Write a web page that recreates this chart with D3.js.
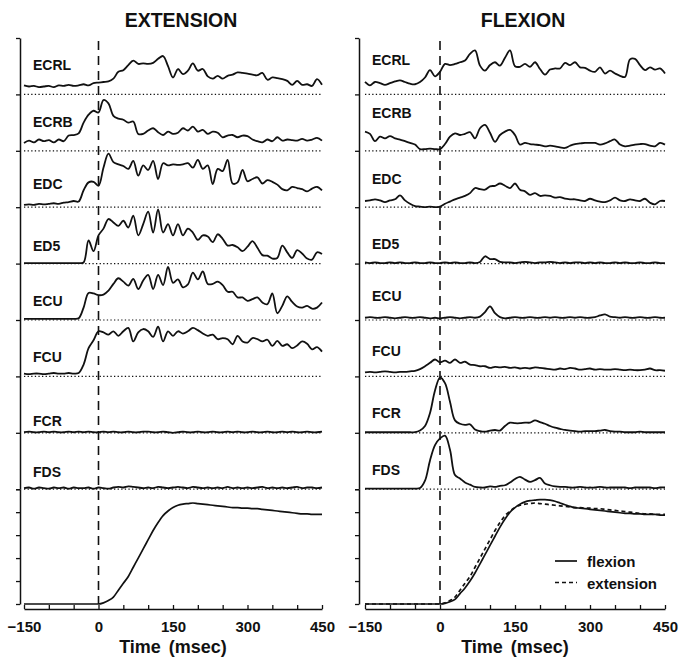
<!DOCTYPE html>
<html>
<head>
<meta charset="utf-8">
<script src="https://cdn.jsdelivr.net/npm/d3@7"></script>
<style>
  body { margin: 0; background: #fff; }
  text { font-family: "Liberation Sans", Arial, Helvetica, sans-serif; font-weight: bold; fill: #111; }
</style>
</head>
<body>
<svg id="chart" width="680" height="666"></svg>
<script>
// sample times (msec), one value every 10 ms
const times = d3.range(-150, 451, 10)
const timeTicks = d3.range(-150, 451, 50)
const timeLabels = [-150, 0, 150, 300, 450]
const positionTicks = [0, 20, 40, 60, 80, 100]
const muscles = ["ECRL", "ECRB", "EDC", "ED5", "ECU", "FCU", "FCR", "FDS"]

// EMG, % of strip height -- extension movements
const extECRL = [16,14,15,13,14,15,13,16,15,17, 15,16,18,16,20,21,22,23,28,40, 43,52,60,54,55,54,56,63,68,50, 30,45,36,42,55,42,45,32,28,33, 28,33,35,39,38,37,35,34,38,26, 30,29,27,24,17,24,17,18,15,27, 17]
const extECRB = [14,18,15,20,17,19,15,20,17,27, 28,31,50,64,71,68,90,84,62,57, 55,50,52,30,30,36,40,33,28,34, 30,32,40,36,43,34,37,30,34,32, 24,27,28,24,27,26,20,17,15,20, 17,24,18,20,19,18,21,18,20,23, 18]
const extEDC = [4,5,4,6,5,6,7,6,8,9, 11,10,30,44,45,38,70,95,80,76, 73,68,82,56,74,66,82,50,78,74, 76,75,76,78,70,84,68,74,41,68, 64,84,42,44,66,46,50,53,42,48, 45,40,32,30,36,34,32,28,33,36, 30]
const extED5 = [1,1,1,1,1,1,1,1,1,1, 1,1,2,41,22,50,62,79,73,67, 76,64,85,50,70,92,55,96,55,70, 50,70,50,62,55,42,50,48,38,52, 44,32,33,29,22,30,40,28,15,14, 9,10,32,20,10,24,18,9,7,20, 17]
const extECU = [2,2,2,2,2,2,2,2,2,2, 2,3,22,48,47,44,45,52,64,74, 68,61,73,55,70,80,55,80,62,94, 66,72,58,63,84,72,86,64,64,68, 62,50,50,40,40,34,37,40,31,28, 47,12,25,42,32,24,22,25,20,22, 31]
const extFCU = [5,4,5,5,4,5,6,5,5,6, 5,6,21,50,64,80,78,74,80,72, 80,86,62,78,84,80,70,88,62,80, 72,80,76,80,86,82,76,72,74,66, 68,66,57,72,62,60,68,66,62,65, 54,63,54,57,50,55,62,58,48,52, 44]
const extFCR = [1,2,1,1,2,1,2,1,1,2, 1,2,1,2,1,1,2,1,2,1, 1,2,1,1,2,2,1,1,2,1, 0,1,2,1,1,2,1,1,2,1, 1,2,1,2,1,1,2,1,1,2, 1,1,2,1,2,1,1,2,1,1, 2]
const extFDS = [2,3,1,3,2,1,3,2,3,1, 3,2,2,3,1,3,2,1,3,4, 3,5,4,3,2,3,2,4,3,2, 3,4,3,2,4,3,2,3,2,3, 2,4,2,3,2,3,2,3,4,2, 3,2,3,2,3,4,2,3,3,2, 3]

// EMG, % of strip height -- flexion movements
const flexECRL = [22,16,22,20,17,20,23,25,22,19, 18,22,30,43,32,40,54,52,54,57, 60,72,78,51,42,52,57,51,65,78, 50,49,54,49,57,45,35,44,46,46, 56,52,57,48,47,42,40,48,37,42, 37,33,31,62,63,52,43,48,44,46, 37]
const flexECRB = [34,30,17,25,22,26,22,20,17,14, 11,3,3,4,3,3,12,25,31,28, 30,33,22,40,46,32,16,28,34,37, 28,11,14,12,11,10,8,9,8,6, 5,9,12,13,14,14,14,11,13,17, 20,11,8,9,11,12,12,9,8,14, 11]
const flexEDC = [11,12,14,12,9,12,14,21,12,6, 2,1,0,1,0,1,6,10,14,17, 20,25,34,32,31,37,38,42,38,34, 42,31,28,22,25,20,21,20,17,18, 15,14,14,12,11,15,12,10,9,12, 17,12,11,14,12,11,15,8,5,11, 11]
const flexED5 = [2,1,2,1,1,2,1,2,1,1, 2,1,1,2,1,1,2,1,2,1, 1,2,1,3,13,8,8,3,2,2, 1,2,3,2,1,2,2,3,2,1, 2,1,2,2,1,2,1,2,1,1, 2,1,2,1,1,2,1,1,2,1, 1]
const flexECU = [4,5,4,4,5,4,3,4,5,4, 4,5,4,3,4,3,4,5,4,3, 4,5,4,6,14,24,12,5,3,4, 5,4,4,5,4,4,5,4,5,4, 4,5,4,5,4,4,5,8,10,6, 5,4,5,4,4,5,4,4,5,4, 4]
const flexFCU = [7,8,7,8,9,8,7,8,8,9, 10,13,18,24,30,25,28,24,30,24, 26,21,20,18,18,15,17,16,17,15, 16,14,15,14,16,15,14,13,12,14, 13,15,14,12,13,14,12,13,12,12, 13,12,11,12,11,11,12,14,11,11, 10]
const flexFCR = [1,1,1,1,1,1,1,1,1,1, 1,4,12,35,75,98,88,55,22,16, 14,15,6,3,2,4,5,4,12,18, 17,17,18,18,22,19,16,12,9,7, 5,4,3,2,3,3,3,4,5,3, 2,2,1,1,1,2,1,1,1,1, 1]
const flexFDS = [1,1,1,1,1,1,1,1,1,1, 1,2,15,51,78,90,95,70,25,19, 12,8,4,3,3,5,4,6,7,12, 18,22,17,13,16,20,10,7,5,4, 4,3,3,4,3,3,3,4,3,3, 3,3,3,2,3,3,3,3,2,3, 3]

// wrist position, % of full scale
const extPosition = [0,0,0,0,0,0,0,0,0,0, 0,0,0,0,0,0,1,3,6,12, 18,24,32,40,48,56,64,71,77,81, 84,86,87,87.5,88,87.5,87,86.5,86,85.5, 85,84.5,84,84,83.5,83.5,83,83,82.5,82, 81.5,81,80.5,80,79.5,79,78.5,78.5,78,78, 78]
const flexPosition = [0,0,0,0,0,0,0,0,0,0, 0,0,0,0,0,0,0.5,2,4,9, 14,20,27,35,43,51,59,67,74,80, 84,87,89,90,90.5,91,91,90.5,89.5,88, 86.5,85,84,83.5,83,82.5,82,81.5,81,80.5, 80,79.5,79,79,78.5,78.5,78,78,78,77.5, 77.5]

// ---- layout ----
const svg = d3.select("#chart")
const stripTop = 38, stripH = 56.4, posBottom = 604, axisY = 609
const ink = "#111"

const panels = [
    { title: "EXTENSION", x0: 24, x1: 322, axisX: 20, labelX: 33,
      emg: [extECRL, extECRB, extEDC, extED5, extECU, extFCU, extFCR, extFDS],
      lifts: [24, 24, 18, 13, 14, 14, 7, 12] },
    { title: "FLEXION", x0: 365, x1: 665, axisX: 359, labelX: 372,
      emg: [flexECRL, flexECRB, flexEDC, flexED5, flexECU, flexFCU, flexFCR, flexFDS],
      lifts: [29, 33, 23, 15, 19, 20, 15, 14] }
]

const fmtTime = d => d < 0 ? "\u2212" + (-d) : String(d)

panels.forEach((p, pi) => {
    const x = d3.scaleLinear().domain([-150, 450]).range([p.x0, p.x1])
    const g = svg.append("g")
    const mid = (p.x0 + p.x1) / 2

    g.append("text")
        .attr("x", mid + 8).attr("y", 27)
        .attr("text-anchor", "middle")
        .style("font-size", "19.5px")
        .text(p.title)

    // left axis: strip ticks + position ticks
    const stripY = d3.scaleLinear().domain([0, muscles.length]).range([stripTop, stripTop + muscles.length * stripH])
    const posY = d3.scaleLinear().domain([0, 100]).range([posBottom, stripY(muscles.length)])

    const styleAxis = sel => {
        sel.selectAll("path").attr("stroke", ink).attr("stroke-width", 1.5)
        sel.selectAll("line").attr("stroke", ink).attr("stroke-width", 1.3)
        sel.selectAll("text").remove()
    }
    g.append("g").attr("transform", `translate(${p.axisX},0)`)
        .call(d3.axisLeft(stripY).tickValues(d3.range(0, muscles.length + 1)).tickSize(4).tickSizeOuter(0))
        .call(styleAxis)
    g.append("g").attr("transform", `translate(${p.axisX},0)`)
        .call(d3.axisLeft(posY).tickValues(positionTicks).tickSize(4).tickSizeOuter(0))
        .call(styleAxis)

    // EMG strips
    muscles.forEach((m, i) => {
        const base = stripY(i + 1)
        const y = d3.scaleLinear().domain([0, 100]).range([base, base - stripH])

        g.append("line")
            .attr("x1", p.x0).attr("x2", p.x1)
            .attr("y1", base).attr("y2", base)
            .attr("stroke", ink).attr("stroke-width", 1.2)
            .attr("stroke-dasharray", "1.3,2.3")

        const line = d3.line()
            .x((d, j) => x(times[j]))
            .y(d => y(d))
            .curve(d3.curveCatmullRom.alpha(0.5))

        g.append("path")
            .datum(p.emg[i])
            .attr("fill", "none")
            .attr("stroke", ink)
            .attr("stroke-width", 1.8)
            .attr("stroke-linejoin", "round")
            .attr("d", line)

        g.append("text")
            .attr("x", p.labelX).attr("y", base - p.lifts[i])
            .style("font-size", "14px")
            .text(m)
    })

    // position traces
    const posLine = d3.line()
        .x((d, j) => x(times[j]))
        .y(d => posY(d))
        .curve(d3.curveMonotoneX)

    if (pi === 0) {
        g.append("path").datum(extPosition)
            .attr("fill", "none").attr("stroke", ink).attr("stroke-width", 1.7)
            .attr("d", posLine)
    } else {
        g.append("path").datum(flexPosition)
            .attr("fill", "none").attr("stroke", ink).attr("stroke-width", 1.7)
            .attr("d", posLine)
        g.append("path").datum(extPosition)
            .attr("fill", "none").attr("stroke", ink).attr("stroke-width", 1.7)
            .attr("stroke-dasharray", "4,3")
            .attr("d", posLine)

        // legend
        const lg = g.append("g")
        const items = [["flexion", null], ["extension", "4,3"]]
        items.forEach((it, k) => {
            const ly = 561 + k * 21.5
            lg.append("line")
                .attr("x1", 555).attr("x2", 577).attr("y1", ly).attr("y2", ly)
                .attr("stroke", ink).attr("stroke-width", 1.7)
                .attr("stroke-dasharray", it[1])
            lg.append("text")
                .attr("x", 587).attr("y", ly + 6)
                .style("font-size", "15px")
                .text(it[0])
        })
    }

    // movement onset
    g.append("line")
        .attr("x1", x(0)).attr("x2", x(0))
        .attr("y1", stripTop + 3).attr("y2", posBottom)
        .attr("stroke", ink).attr("stroke-width", 1.6)
        .attr("stroke-dasharray", "9,6")

    // time axis
    const xa = g.append("g").attr("transform", `translate(0,${axisY})`)
        .call(d3.axisBottom(x).tickValues(timeTicks).tickSize(-4).tickSizeOuter(0).tickPadding(12)
            .tickFormat(d => timeLabels.includes(d) ? fmtTime(d) : ""))
    xa.selectAll("path").attr("stroke", ink).attr("stroke-width", 1.5)
    xa.selectAll("line").attr("stroke", ink).attr("stroke-width", 1.3)
    xa.selectAll("text")
        .attr("fill", ink)
        .style("font-family", "'Liberation Sans', Arial, sans-serif")
        .style("font-weight", "bold")
        .style("font-size", "15px")

    g.append("text")
        .attr("x", mid).attr("y", 653)
        .attr("text-anchor", "middle")
        .style("font-size", "18px")
        .style("word-spacing", "3px")
        .text("Time (msec)")
})
</script>
</body>
</html>
